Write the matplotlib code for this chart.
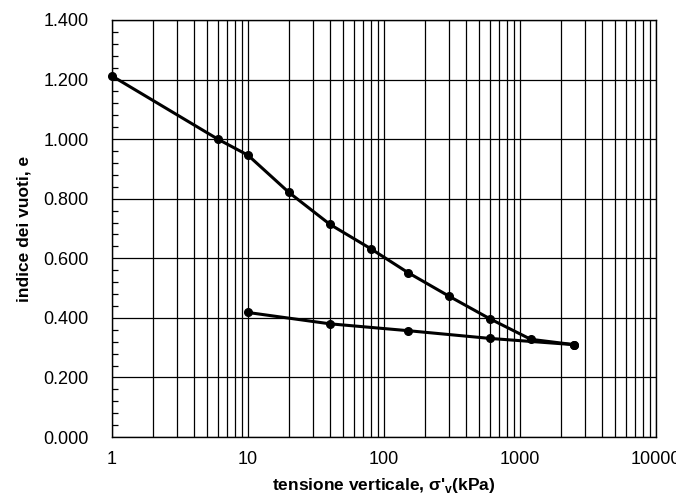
import numpy as np
import matplotlib
matplotlib.use("Agg")
import matplotlib.pyplot as plt
from matplotlib.ticker import MultipleLocator, FuncFormatter, LogLocator, NullFormatter

plt.rcParams['font.family'] = ['Liberation Sans', 'DejaVu Sans']
plt.rcParams['mathtext.fontset'] = 'custom'
plt.rcParams['mathtext.bf'] = 'Liberation Sans:bold'
plt.rcParams['mathtext.rm'] = 'Liberation Sans'

# curva di carico
sigma_load = [1, 6, 10, 20, 40, 80, 150, 300, 600, 1200, 2500]
e_load = [1.212, 1.000, 0.946, 0.821, 0.714, 0.632, 0.552, 0.473, 0.397, 0.328, 0.310]

# curva di scarico
sigma_unload = [2500, 600, 150, 40, 10]
e_unload = [0.310, 0.331, 0.357, 0.380, 0.418]

fig = plt.figure(figsize=(6.76, 4.99), dpi=100)
ax = fig.add_axes([112 / 676, 62 / 499, 544 / 676, 417 / 499])

ax.plot(sigma_load, e_load, '-o', color='black', lw=2.2, ms=5.5, zorder=5, clip_on=False)
ax.plot(sigma_unload, e_unload, '-o', color='black', lw=2.2, ms=5.5, zorder=5, clip_on=False)

ax.set_xscale('log')
ax.set_xlim(1, 10000)
ax.set_ylim(0, 1.4)

ax.xaxis.set_major_locator(LogLocator(base=10, numticks=10))
ax.xaxis.set_minor_locator(LogLocator(base=10, subs=np.arange(2, 10), numticks=20))
ax.xaxis.set_major_formatter(FuncFormatter(lambda v, p: f"{v:g}"))
ax.xaxis.set_minor_formatter(NullFormatter())

ax.yaxis.set_major_locator(MultipleLocator(0.2))
ax.yaxis.set_minor_locator(MultipleLocator(0.04))
ax.yaxis.set_major_formatter(FuncFormatter(lambda v, p: f"{v:.3f}"))

ax.grid(which='major', axis='both', color='black', lw=0.9)
ax.grid(which='minor', axis='x', color='black', lw=0.9)

ax.tick_params(axis='x', which='both', length=0, labelsize=13, pad=10)
ax.tick_params(axis='y', which='major', length=0, labelsize=13, pad=17)
ax.tick_params(axis='y', which='minor', direction='in', length=4, width=0.9, color='black')

for s in ax.spines.values():
    s.set_color('black')
    s.set_linewidth(1.0)

ax.set_xlabel(r"tensione verticale, σ'$_\mathbf{v}$(kPa)", fontsize=12.5, fontweight='bold', labelpad=6)
ax.set_ylabel("indice dei vuoti, e", fontsize=12.5, fontweight='bold', labelpad=8)

fig.savefig("out.png", dpi=100)
